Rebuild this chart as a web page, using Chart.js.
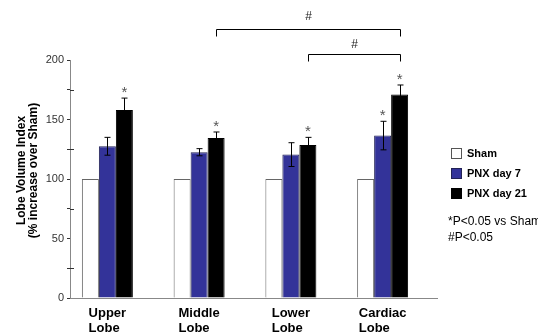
<!DOCTYPE html>
<html>
<head>
<meta charset="utf-8">
<script src="https://cdn.jsdelivr.net/npm/chart.js@4/dist/chart.umd.min.js"></script>
<style>
  body { margin: 0; background: #fff; }
  #wrap { width: 538px; height: 335px; position: relative; }
</style>
</head>
<body>
<div id="wrap"><canvas id="myChart"></canvas></div>
<script>
// data
var lobes = [['Upper', 'Lobe'], ['Middle', 'Lobe'], ['Lower', 'Lobe'], ['Cardiac', 'Lobe']];
var sham = [100, 100, 100, 100];
var pnxDay7 = [127.5, 122.5, 120.5, 136.5];
var pnxDay21 = [158, 134.5, 128.5, 171];
var errDay7 = [7.5, 3, 10, 12];
var errDay21 = [10, 5, 6.5, 8];
var starDay7 = [false, false, false, true];
var starDay21 = [true, true, true, true];
var yTicks = [0, 50, 100, 150, 200];

var FONT = "'Liberation Sans', Arial, sans-serif";

var extras = {
    id: 'extras',
    afterDatasetsDraw: function(chart) {
        var ctx = chart.ctx;
        var y = chart.scales.y;
        var m7 = chart.getDatasetMeta(1), m21 = chart.getDatasetMeta(2);
        ctx.save();

        // minor ticks crossing the axis
        ctx.strokeStyle = '#333';
        ctx.lineWidth = 1;
        [25, 75, 125, 175].forEach(function(v) {
            var py = Math.round(y.getPixelForValue(v)) + 0.5;
            ctx.beginPath();
            ctx.moveTo(70, py);
            ctx.lineTo(74, py);
            ctx.stroke();
        });

        // error bars
        ctx.strokeStyle = '#000';
        function errBars(meta, vals, errs) {
            meta.data.forEach(function(bar, i) {
                var x = Math.round(bar.x) + 0.5;
                var top = y.getPixelForValue(vals[i] + errs[i]);
                var bot = y.getPixelForValue(vals[i] - errs[i]);
                ctx.beginPath();
                ctx.moveTo(x, top); ctx.lineTo(x, bot);
                ctx.moveTo(x - 3, top); ctx.lineTo(x + 3, top);
                ctx.moveTo(x - 3, bot); ctx.lineTo(x + 3, bot);
                ctx.stroke();
            });
        }
        errBars(m7, pnxDay7, errDay7);
        errBars(m21, pnxDay21, errDay21);

        // significance stars
        ctx.fillStyle = '#555';
        ctx.font = '15px ' + FONT;
        ctx.textAlign = 'center';
        ctx.textBaseline = 'alphabetic';
        function stars(meta, vals, errs, flags) {
            meta.data.forEach(function(bar, i) {
                if (!flags[i]) return;
                ctx.fillText('*', bar.x, y.getPixelForValue(vals[i] + errs[i]) - 1);
            });
        }
        stars(m7, pnxDay7, errDay7, starDay7);
        stars(m21, pnxDay21, errDay21, starDay21);

        // brackets (#)
        ctx.strokeStyle = '#000';
        ctx.fillStyle = '#222';
        ctx.font = '12px ' + FONT;
        ctx.textBaseline = 'middle';
        function bracket(i1, i2, py, hashY) {
            var x1 = Math.round(m21.data[i1].x) + 0.5, x2 = Math.round(m21.data[i2].x) + 0.5;
            ctx.beginPath();
            ctx.moveTo(x1, py + 7); ctx.lineTo(x1, py); ctx.lineTo(x2, py); ctx.lineTo(x2, py + 7);
            ctx.stroke();
            ctx.fillText('#', (x1 + x2) / 2, hashY);
        }
        bracket(1, 3, 29.5, 16.5);
        bracket(2, 3, 54.5, 45);

        // category labels, left aligned lines
        ctx.fillStyle = '#000';
        ctx.font = 'bold 13px ' + FONT;
        ctx.textAlign = 'left';
        m7.data.forEach(function(bar, i) {
            var lines = lobes[i];
            var w = Math.max.apply(null, lines.map(function(s) { return ctx.measureText(s).width; }));
            lines.forEach(function(s, k) {
                ctx.fillText(s, bar.x - w / 2, 313 + k * 15);
            });
        });

        // y title
        ctx.save();
        ctx.textAlign = 'center';
        ctx.font = 'bold 12px ' + FONT;
        ctx.translate(22, 170.5);
        ctx.rotate(-Math.PI / 2);
        ctx.fillText('Lobe Volume Index', 0, 0);
        ctx.fillText('(% increase over Sham)', 0, 12);
        ctx.restore();

        // legend
        var items = [['Sham', '#fff', '#555'], ['PNX day 7', '#333399', '#222255'], ['PNX day 21', '#000', '#000']];
        ctx.font = 'bold 11px ' + FONT;
        items.forEach(function(it, k) {
            var cy = 153.5 + k * 20;
            ctx.fillStyle = it[1];
            ctx.fillRect(451.5, cy - 5, 10, 10);
            ctx.strokeStyle = it[2];
            ctx.strokeRect(451.5, cy - 5, 10, 10);
            ctx.fillStyle = '#000';
            ctx.fillText(it[0], 467, cy);
        });

        // footnotes
        ctx.font = '12px ' + FONT;
        ctx.fillText('*P<0.05 vs Sham', 448, 222);
        ctx.fillText('#P<0.05', 448, 238);

        ctx.restore();
    }
};

document.addEventListener("DOMContentLoaded", function() {
    var ctx = document.getElementById('myChart').getContext('2d');
    var chart = new Chart(ctx, {
        type: 'bar',
        data: {
            labels: lobes,
            datasets: [{
                label: 'Sham',
                data: sham,
                backgroundColor: '#fff',
                borderColor: '#666',
                borderWidth: 1
            }, {
                label: 'PNX day 7',
                data: pnxDay7,
                backgroundColor: '#333399',
                borderColor: '#222255',
                borderWidth: 1
            }, {
                label: 'PNX day 21',
                data: pnxDay21,
                backgroundColor: '#000',
                borderColor: '#000',
                borderWidth: 1
            }, {
                // empty slot, keeps the groups offset like the original
                label: '',
                data: [null, null, null, null]
            }]
        },
        options: {
            responsive: true,
            maintainAspectRatio: false,
            animation: false,
            categoryPercentage: 0.741,
            barPercentage: 1,
            layout: { padding: { left: 0, top: 60, right: 101, bottom: 37 } },
            plugins: {
                legend: { display: false },
                tooltip: { enabled: false }
            },
            scales: {
                x: {
                    grid: { display: false },
                    ticks: { display: false },
                    border: { display: true, color: '#888', width: 1 },
                    afterFit: function(s) { s.height = 0; }
                },
                y: {
                    min: 0,
                    max: 200,
                    afterFit: function(s) { s.width = 70; },
                    ticks: {
                        stepSize: 25,
                        padding: 3,
                        color: '#333',
                        font: { family: FONT, size: 11 },
                        callback: function(v) { return yTicks.indexOf(v) >= 0 ? v : ''; }
                    },
                    grid: {
                        drawOnChartArea: false,
                        tickLength: 3,
                        tickColor: '#333'
                    },
                    border: { color: '#888', width: 1 }
                }
            }
        },
        plugins: [extras]
    });
});
</script>
</body>
</html>
